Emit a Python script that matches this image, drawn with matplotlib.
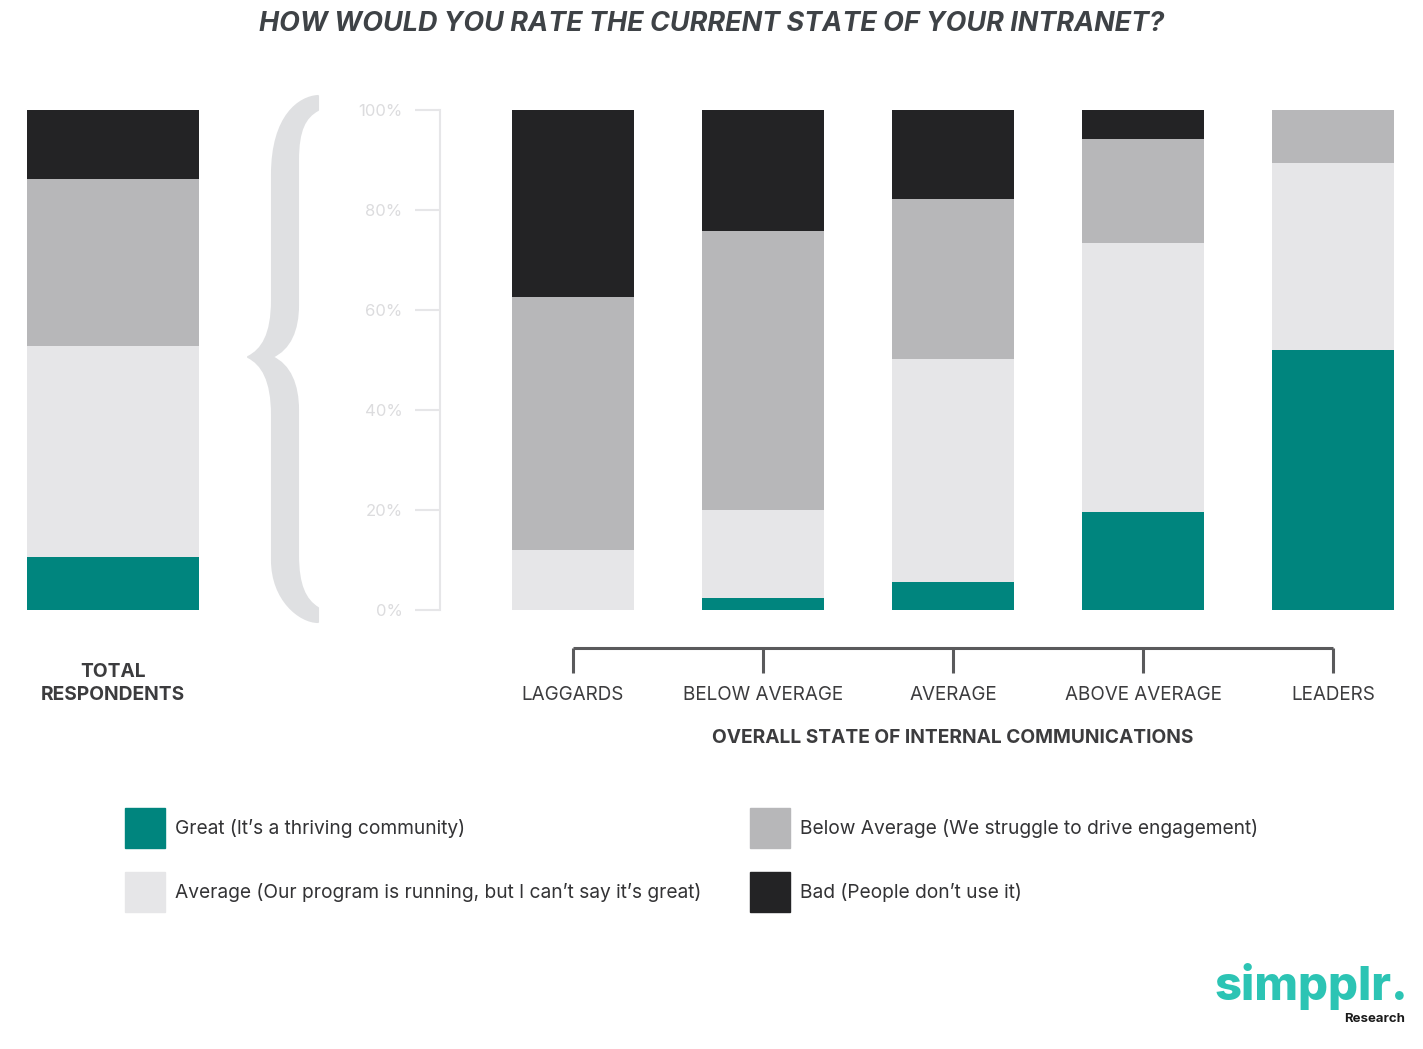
import matplotlib
matplotlib.use("Agg")
import matplotlib.pyplot as plt
from matplotlib.path import Path
from matplotlib.patches import PathPatch, Rectangle
import numpy as np

# data (percent of respondents)
categories = ["LAGGARDS", "BELOW AVERAGE", "AVERAGE", "ABOVE AVERAGE", "LEADERS"]
great = [0.0, 2.4, 5.6, 19.6, 52.0]
average = [12.0, 17.6, 44.6, 53.8, 37.4]
below = [50.6, 55.8, 32.0, 20.8, 10.6]
bad = [37.4, 24.2, 17.8, 5.8, 0.0]

total_great = 10.6
total_average = 42.2
total_below = 33.4
total_bad = 13.8

yticks = [0, 20, 40, 60, 80, 100]

series_names = ["Great (It\u2019s a thriving community)",
                "Average (Our program is running, but I can\u2019t say it\u2019s great)",
                "Below Average (We struggle to drive engagement)",
                "Bad (People don\u2019t use it)"]
colors = ["#00857e", "#e6e6e8", "#b7b7b9", "#232325"]

W, H = 1423, 1049
plt.rcParams['font.family'] = ['Inter', 'DejaVu Sans']

fig = plt.figure(figsize=(W / 100, H / 100), dpi=100, facecolor='white')

def fx(px):
    return px / W

def fy(py):
    return 1 - py / H

# main stacked bars
ax = fig.add_axes([fx(440), fy(610), fx(1410) - fx(440), fy(110) - fy(610)])
x = np.arange(len(categories))
bottom = np.zeros(len(categories))
for vals, c in zip([great, average, below, bad], colors):
    ax.bar(x, vals, width=0.642, bottom=bottom, color=c, linewidth=0)
    bottom += np.array(vals)
ax.set_xlim(-0.7, 4.405)
ax.set_ylim(0, 100)
for s in ['top', 'right', 'bottom']:
    ax.spines[s].set_visible(False)
ax.spines['left'].set_color('#e6e6e8')
ax.spines['left'].set_linewidth(1.5)
ax.set_xticks([])
ax.set_yticks(yticks)
ax.set_yticklabels([f"{t}%" for t in yticks])
ax.tick_params(axis='y', length=18, width=1.5, color='#e6e6e8', labelcolor='#dcdcde',
               labelsize=12, pad=9)

# bracket under the bars
ax.plot([x[0], x[-1]], [-7.6, -7.6], color='#5a5a5c', lw=2.2, clip_on=False,
        solid_capstyle='butt')
for xi, name in zip(x, categories):
    ax.plot([xi, xi], [-7.6, -12.6], color='#5a5a5c', lw=2.2, clip_on=False,
            solid_capstyle='butt')
    ax.text(xi, -17.1, name, ha='center', va='center', fontsize=13.6, color='#3c3c3e')
ax.text(x[2], -25.6, "OVERALL STATE OF INTERNAL COMMUNICATIONS", ha='center', va='center',
        fontsize=13.8, fontweight='bold', color='#3c3c3e')

# total respondents bar
ax2 = fig.add_axes([fx(27), fy(610), fx(199) - fx(27), fy(110) - fy(610)])
b = 0
for v, c in zip([total_great, total_average, total_below, total_bad], colors):
    ax2.bar([0], [v], width=1.0, bottom=b, color=c, linewidth=0)
    b += v
ax2.set_xlim(-0.5, 0.5)
ax2.set_ylim(0, 100)
ax2.axis('off')
ax2.text(0, -14.7, "TOTAL\nRESPONDENTS", ha='center', va='center', fontsize=13.8,
         fontweight='bold', color='#3c3c3e', linespacing=1.38)

# curly brace (filled shape, tapered tips)
C, L = Path.CURVE4, Path.LINETO
brace_pts = [
    ((318, 96), Path.MOVETO),
    ((300, 97), C), ((272, 115), C), ((272, 175), C),
    ((272, 300), L),
    ((272, 335), C), ((262, 350), C), ((248, 357), C),
    ((262, 364), C), ((272, 380), C), ((272, 415), C),
    ((272, 560), L),
    ((272, 600), C), ((300, 622), C), ((318, 622), C),
    ((318, 608), L),
    ((305, 600), C), ((298, 585), C), ((298, 555), C),
    ((298, 410), L),
    ((298, 385), C), ((290, 365), C), ((272, 357), C),
    ((290, 349), C), ((298, 330), C), ((298, 305), C),
    ((298, 160), L),
    ((298, 130), C), ((305, 117), C), ((318, 110), C),
    ((318, 96), Path.CLOSEPOLY),
]
brace = Path([(fx(p[0]), fy(p[1])) for p, _ in brace_pts], [k for _, k in brace_pts])
fig.patches.append(PathPatch(brace, transform=fig.transFigure, facecolor='#dfe0e2',
                             edgecolor='#dfe0e2', lw=1.5, joinstyle='round'))

# title
fig.text(fx(712), fy(24), "HOW WOULD YOU RATE THE CURRENT STATE OF YOUR INTRANET?",
         ha='center', va='center', fontsize=19.4, fontweight='bold', fontstyle='italic',
         color='#3e4246')

# legend
legend_pos = [(125, 828), (125, 892), (750, 828), (750, 892)]
for (lx, ly), name, c in zip(legend_pos, series_names, colors):
    fig.patches.append(Rectangle((fx(lx), fy(ly + 20)), fx(40), 40 / H, color=c,
                                 transform=fig.transFigure))
    fig.text(fx(lx + 50), fy(ly), name, ha='left', va='center', fontsize=13.8,
             color='#333335')

# logo
fig.text(fx(1408), fy(1000), "simpplr.", ha='right', va='baseline', fontsize=34,
         fontweight='heavy', color='#2cc4b4')
fig.text(fx(1405), fy(1019), "Research", ha='right', va='center', fontsize=9.5,
         fontweight='bold', color='#1a1a1a')

fig.savefig("out.png", dpi=100, facecolor='white')
